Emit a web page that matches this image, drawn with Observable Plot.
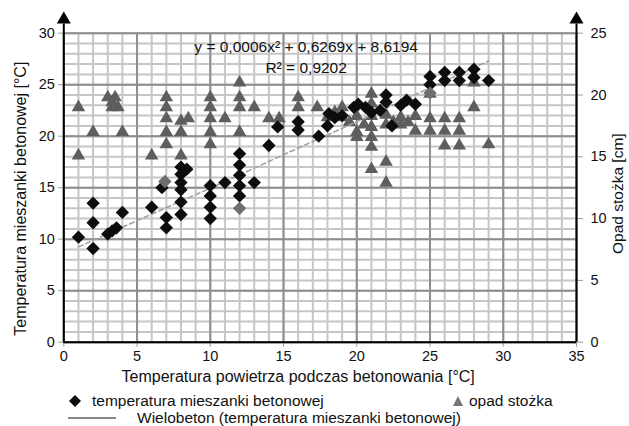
<!DOCTYPE html>
<html><head><meta charset="utf-8">
<script src="https://cdn.jsdelivr.net/npm/d3@7"></script>
<script src="https://cdn.jsdelivr.net/npm/@observablehq/plot@0.6"></script>
<style>
body{margin:0;background:#fff;font-family:"Liberation Sans",Arial,sans-serif;}
#legend{position:relative;width:629px;height:36px;font-size:15.5px;color:#111;}
#legend .t{position:absolute;white-space:nowrap;line-height:18px;}
#legend svg{position:absolute;}
</style></head><body>
<div id="chart"></div>
<div id="legend"></div>
<script>
// Tick labels
const xTicks = [0, 5, 10, 15, 20, 25, 30, 35];
const leftTicks = [0, 5, 10, 15, 20, 25, 30];
const rightTicks = [0, 5, 10, 15, 20, 25];
const leftMax = 30, rightMax = 25;

// temperatura mieszanki betonowej [°C] vs air temperature
const mixPoints = [
  [1,10.2],[2,13.5],[2,11.6],[2,9.1],[3,10.5],[3.3,10.8],[3.6,11.1],[4,12.6],
  [6,13.1],[6.7,15.0],[7,12.1],[7,11.1],
  [8,17.0],[8,16.3],[8.4,16.8],[8,15.5],[8,14.8],[8,13.6],[8,12.4],
  [10,15.2],[10,14.2],[10,13.1],[10,12.0],[11,15.5],
  [12,18.3],[12,17.2],[12,16.2],[12,15.2],[12,14.2],[13,15.5],
  [14,19.1],[14.6,20.9],[16,21.4],[16,20.6],[17.4,20.0],
  [18,21.0],[18.1,22.2],[18.5,21.8],[19,22.0],[19.8,22.8],[20.1,23.1],[20.6,22.8],
  [21,22.3],[21.6,22.5],[22,24.0],[22,23.3],[22.4,21.0],[23,23.0],[23.4,23.5],[24,23.1],
  [25,25.8],[25,25.0],[26,26.2],[26,25.4],[27,26.2],[27,25.4],[28,26.5],[28,25.7],[29,25.4]
];
// grey diamonds (overlapping markers)
const greyPoints = [[6.9,15.6],[12,13.0],[25,24.2]];

// opad stożka [cm] (right axis)
const slumpPoints = [
  [1,19.0],[1,15.1],[2,17.0],[3,19.8],[3.3,19.4],[3.5,19.8],[3.7,19.0],[3.3,19.0],[4,17.0],
  [6,15.1],[7,19.8],[7,19.0],[7,18.1],[7,17.0],[7,16.0],[8,17.9],[8,17.0],[8,15.1],[8.5,18.1],
  [10,19.8],[10,19.0],[10,18.1],[10,17.0],[10,16.0],[11,18.1],
  [12,21.0],[12,19.8],[12,19.0],[12,17.0],[13,19.0],[14,18.1],[14.7,18.1],
  [16,19.8],[16,19.0],[17.3,19.0],[18,18.2],[18.5,18.6],[19,19.0],[19,18.2],[19.5,17.8],
  [20,17.0],[20,16.6],[20,18.3],[20.5,17.6],
  [21,20.1],[21,19.3],[21,18.3],[21,17.4],[21,16.6],[21,15.8],[21,14.0],
  [22,14.6],[22,12.9],[22,18.4],[22,17.6],[22.5,17.8],[23,17.6],[23,18.2],[23.5,17.8],
  [24,18.3],[24,17.1],[25,20.1],[25,18.1],[25,17.1],
  [26,18.1],[26,17.1],[26,15.9],[27,18.1],[27,17.1],[27,15.9],
  [28,21.0],[28,19.0],[29,16.0]
];

// Wielobeton trend line points
const trendPoints = [[1,9.25],[5,11.8],[10,14.95],[15,18.2],[20,21.4],[25,24.7],[29,27.3]];

const equation = "y = 0,0006x² + 0,6269x + 8,6194";
const rSquared = "R² = 0,9202";

const toLeft = s => s * leftMax / rightMax;
const minorX = d3.range(0, 36);
const minorY = d3.range(0, 31);

const font = "'Liberation Sans', Arial, sans-serif";

const chart = Plot.plot({
  width: 629,
  height: 390,
  marginLeft: 63.3,
  marginRight: 53,
  marginTop: 32.7,
  marginBottom: 48.3,
  x: {domain: [0, 35]},
  y: {domain: [0, leftMax]},
  style: {fontFamily: font, fontSize: "14.5px", color: "#111", background: "#fff"},
  marks: [
    Plot.gridX(minorX, {stroke: "#c6c6c6", strokeOpacity: 1, strokeWidth: 2}),
    Plot.gridY(minorY, {stroke: "#c6c6c6", strokeOpacity: 1, strokeWidth: 2}),
    Plot.gridX(xTicks, {stroke: "#8e8e8e", strokeOpacity: 1, strokeWidth: 2}),
    Plot.gridY(leftTicks, {stroke: "#8e8e8e", strokeOpacity: 1, strokeWidth: 2}),
    Plot.axisX(xTicks, {tickSize: 5, tickPadding: 4, stroke: "#999", label: null}),
    Plot.axisY(leftTicks, {anchor: "left", tickSize: 5, tickPadding: 4, stroke: "#999", label: null}),
    Plot.axisY(rightTicks.map(toLeft), {anchor: "right", tickSize: 6, tickPadding: 8, stroke: "#999",
      tickFormat: d => String(Math.round(d * rightMax / leftMax)), label: null}),
    // axes lines and arrows
    Plot.ruleY([0], {x1: 0, x2: 35, stroke: "#000", strokeWidth: 2}),
    Plot.ruleX([0, 35], {y1: 0, y2: 30.9, stroke: "#000", strokeWidth: 2, clip: false}),
    Plot.dot([0, 35], {x: d => d, y: () => 31.33, symbol: "triangle", r: 5.2, fill: "#000", stroke: "none", clip: false}),
    // series
    Plot.dot(slumpPoints, {x: d => d[0], y: d => toLeft(d[1]), symbol: "triangle", r: 5, fill: "#5e5e5e", stroke: "none"}),
    Plot.line(trendPoints, {x: d => d[0], y: d => d[1], stroke: "#a0a0a0", strokeWidth: 1.5, strokeDasharray: "5,3"}),
    Plot.dot(mixPoints, {x: d => d[0], y: d => d[1], symbol: "diamond2", r: 6, fill: "#0d0d0d", stroke: "none"}),
    Plot.dot(greyPoints, {x: d => d[0], y: d => d[1], symbol: "diamond2", r: 6, fill: "#6e6e6e", stroke: "none"}),
    // labels
    Plot.text([equation], {text: d => d, frameAnchor: "top", dx: -14, dy: 8, fontSize: 15.5, fill: "#111"}),
    Plot.text([rSquared], {text: d => d, frameAnchor: "top", dx: -14, dy: 29, fontSize: 15.5, fill: "#111"}),
    Plot.text(["Temperatura powietrza podczas betonowania [°C]"], {text: d => d, frameAnchor: "bottom", textAnchor: "middle", dx: -22, dy: 40, fontSize: 16, fill: "#111"}),
    Plot.text(["Temperatura mieszanki betonowej [°C]"], {text: d => d, frameAnchor: "left", textAnchor: "middle", rotate: -90, dx: -43, dy: 11, fontSize: 16, fill: "#111"}),
    Plot.text(["Opad stożka [cm]"], {text: d => d, frameAnchor: "right", textAnchor: "middle", rotate: -90, dx: 42, dy: 6, fontSize: 15.5, fill: "#111"})
  ]
});
document.getElementById("chart").append(chart);

const legend = document.getElementById("legend");
legend.innerHTML = `
  <svg style="left:68px;top:4px" width="14" height="14"><path d="M7 1 L13 7 L7 13 L1 7Z" fill="#0d0d0d"/></svg>
  <span class="t" style="left:92px;top:2px">temperatura mieszanki betonowej</span>
  <svg style="left:452px;top:5px" width="12" height="12"><path d="M6 1 L11 11 L1 11Z" fill="#777"/></svg>
  <span class="t" style="left:469px;top:2px">opad stożka</span>
  <svg style="left:66px;top:19px" width="52" height="18"><line x1="2" x2="50" y1="9" y2="9" stroke="#111" stroke-width="1.2"/></svg>
  <span class="t" style="left:137px;top:19px">Wielobeton (temperatura mieszanki betonowej)</span>
`;
</script>
</body></html>
